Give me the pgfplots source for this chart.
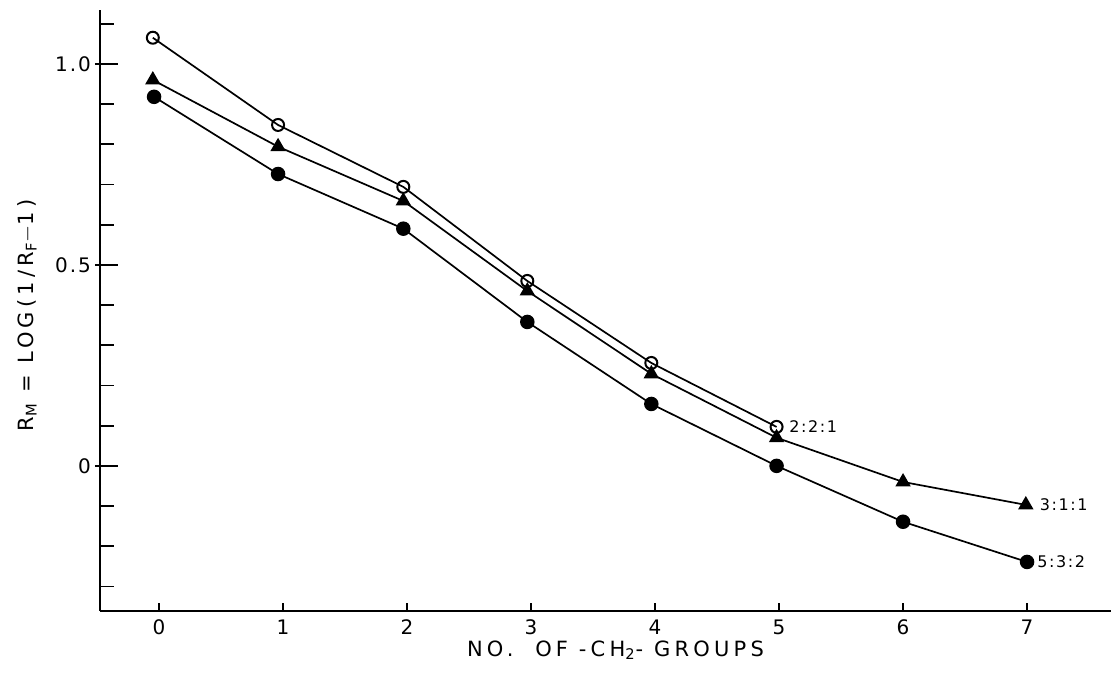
\documentclass[border=0pt]{standalone}
\usepackage{pgfplots}
\pgfplotsset{compat=1.18}
\usepackage{fontspec}
\setmainfont{DejaVu Sans}[LetterSpace=10]
\newcommand{\lblfont}{\fontsize{10.5}{12}\selectfont\addfontfeature{LetterSpace=20}}
\begin{document}
\begin{tikzpicture}
\useasboundingbox (-50pt,-31pt) rectangle (505.5pt,305.5pt);
\begin{axis}[
  at={(0,0)}, anchor=south west,
  scale only axis, width=505.5pt, height=300.5pt,
  xmin=-0.476, xmax=7.677, ymin=-0.361, ymax=1.134,
  axis x line*=bottom, axis y line*=left,
  axis line style={line width=1.3pt, -},
  xtick={0,1,2,3,4,5,6,7},
  ytick={0,0.5,1}, yticklabels={0,0.5,1.0},
  minor ytick={-0.3,-0.2,-0.1,0.1,0.2,0.3,0.4,0.6,0.7,0.8,0.9,1.1},
  tick align=inside,
  tick style={black, line width=0.9pt},
  major tick length=9pt,
  x tick style={/pgfplots/major tick length=4pt},
  minor tick length=7pt,
  extra y ticks={0,0.5,1}, extra y tick labels={},
  extra y tick style={/pgfplots/tick align=outside, /pgfplots/major tick length=2.5pt},
  xtick pos=bottom, ytick pos=left,
  /pgf/number format/assume math mode=true,
  tick label style={font=\fontsize{10}{11}\selectfont},
  xticklabel style={anchor=north, yshift=-1pt},
  yticklabel style={anchor=east, xshift=-1pt},
  xlabel={NO.\ \ OF -CH\textsubscript{2}- GROUPS},
  ylabel={R\textsubscript{M} = LOG(1/R\textsubscript{F}$-$1)},
  label style={font=\lblfont},
  xlabel style={at={(axis description cs:0.5,0)}, anchor=base, yshift=-22.5pt, xshift=5pt},
  ylabel style={at={(axis description cs:0,0.5)}, anchor=center, yshift=36.5pt, xshift=-2.5pt},
  clip=false,
]
\addplot[black, line width=0.85pt, mark=o, mark size=3pt, mark options={fill=white, line width=1pt}]
  coordinates {(-0.05,1.065)(0.96,0.848)(1.97,0.694)(2.97,0.460)(3.97,0.256)(4.98,0.097)};
\addplot[black, line width=0.85pt, mark=triangle*, mark size=3.6pt]
  coordinates {(-0.05,0.960)(0.96,0.794)(1.97,0.659)(2.97,0.435)(3.97,0.229)(4.98,0.070)(6,-0.040)(6.99,-0.097)};
\addplot[black, line width=0.85pt, mark=*, mark size=3.2pt]
  coordinates {(-0.04,0.918)(0.96,0.726)(1.97,0.590)(2.97,0.358)(3.97,0.154)(4.98,0.0)(6,-0.139)(7,-0.239)};
\node[anchor=west, font=\fontsize{8}{9}\selectfont, inner sep=0pt] at (axis cs:5.08,0.097) {2:2:1};
\node[anchor=west, font=\fontsize{8}{9}\selectfont, inner sep=0pt] at (axis cs:7.10,-0.097) {3:1:1};
\node[anchor=west, font=\fontsize{8}{9}\selectfont, inner sep=0pt] at (axis cs:7.08,-0.239) {5:3:2};
\end{axis}
\end{tikzpicture}
\end{document}
